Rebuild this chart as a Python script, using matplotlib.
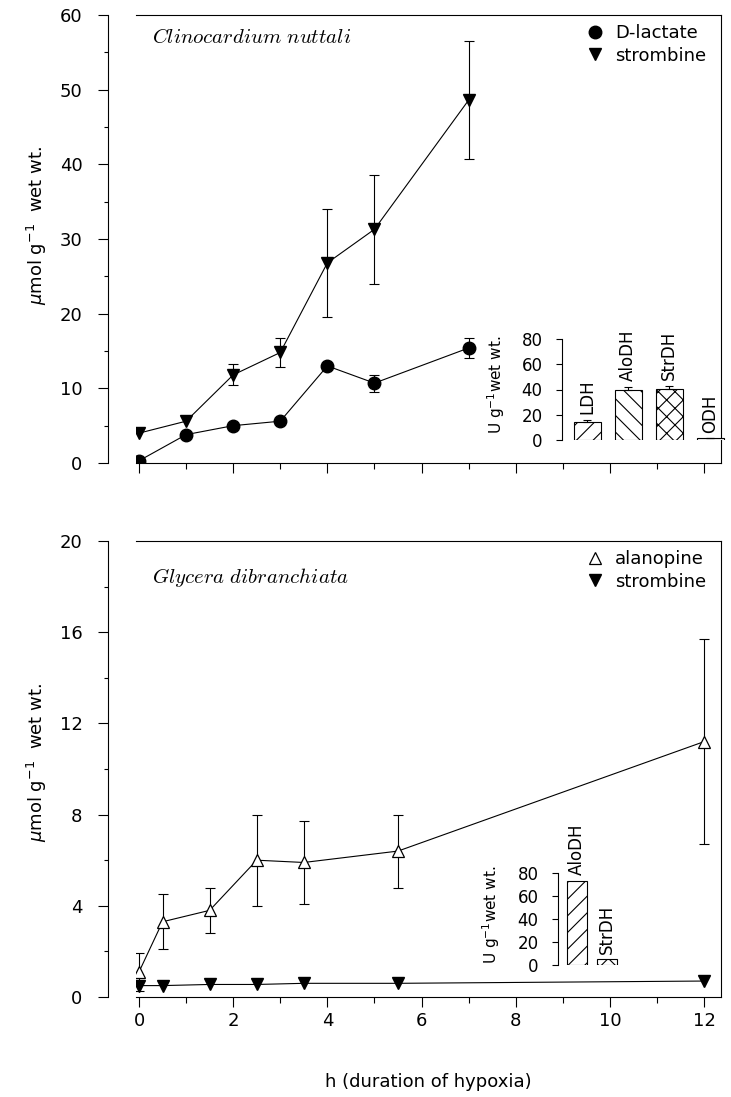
import matplotlib
matplotlib.use('Agg')
import matplotlib.pyplot as plt
from matplotlib.lines import Line2D
import numpy as np

plt.rcParams['font.family'] = ['DejaVu Sans']
plt.rcParams['mathtext.fontset'] = 'dejavusans'
plt.rcParams['hatch.linewidth'] = 0.8

# Clinocardium nuttali
clino_h = [0, 1, 2, 3, 4, 5, 7]
clino_lactate = [0.3, 3.8, 5.0, 5.6, 13.0, 10.7, 15.4]
clino_lactate_err = [0, 0, 0, 0, 0, 1.15, 1.4]
clino_strombine = [4.0, 5.6, 11.8, 14.8, 26.8, 31.3, 48.6]
clino_strombine_err = [0, 0, 1.4, 2.0, 7.2, 7.3, 7.9]

clino_enzymes = ['LDH', 'AloDH', 'StrDH', 'ODH']
clino_activity = [14.5, 39.5, 40.5, 1.5]
clino_activity_err = [1.5, 2.5, 2.5, 0]
clino_hatch = ['//', '\\\\', 'xx', '']

# Glycera dibranchiata
glyc_h = [0, 0.5, 1.5, 2.5, 3.5, 5.5, 12]
glyc_alanopine = [1.1, 3.3, 3.8, 6.0, 5.9, 6.4, 11.2]
glyc_alanopine_err = [0.85, 1.2, 1.0, 2.0, 1.8, 1.6, 4.5]
glyc_strombine = [0.5, 0.5, 0.55, 0.55, 0.6, 0.6, 0.7]

glyc_enzymes = ['AloDH', 'StrDH']
glyc_activity = [73, 5]
glyc_hatch = ['//', 'xx']

W, H = 731, 1097
fig = plt.figure(figsize=(W / 100, H / 100), dpi=100)


def px_axes(x0, y0, x1, y1):
    # pixel box (top-left origin) -> figure axes
    return fig.add_axes([x0 / W, 1 - y1 / H, (x1 - x0) / W, (y1 - y0) / H])


def errbars(ax, x, y, err, **kw):
    x, y, err = np.array(x), np.array(y), np.array(err)
    m = err > 0
    ax.errorbar(x[m], y[m], yerr=err[m], fmt='none', ecolor='k',
                elinewidth=0.8, capsize=3.5, capthick=0.8, zorder=2, **kw)


def style_main(ax, ymax, ystep, labels):
    ax.set_xlim(-0.064, 12.36)
    ax.set_ylim(0, ymax)
    for s in ax.spines.values():
        s.set_linewidth(0.8)
    ax.spines['left'].set_position(('outward', 20))
    ax.set_xticks(range(0, 13, 2))
    ax.set_xticks(range(1, 13, 2), minor=True)
    ax.set_yticks(np.arange(0, ymax + 0.01, ystep))
    ax.set_yticks(np.arange(ystep / 2, ymax, ystep), minor=True)
    ax.tick_params(axis='y', which='major', direction='out', length=7.5,
                   width=0.8, pad=11, labelsize=13)
    ax.tick_params(axis='y', which='minor', direction='out', length=3, width=0.8)
    ax.tick_params(axis='x', which='major', direction='out', length=7,
                   width=0.8, pad=4, labelsize=13, labelbottom=labels)
    ax.tick_params(axis='x', which='minor', direction='out', length=4, width=0.8)


def style_inset(ax, xlim, label_x):
    ax.set_facecolor('none')
    ax.set_xlim(*xlim)
    ax.set_ylim(0, 80)
    for k in ['top', 'right', 'bottom']:
        ax.spines[k].set_visible(False)
    ax.spines['left'].set_linewidth(0.8)
    ax.set_xticks([])
    ax.set_yticks([0, 20, 40, 60, 80])
    ax.tick_params(axis='y', direction='out', length=4, width=0.8, pad=10, labelsize=12)
    ax.set_ylabel(r'U g$^{-1}$wet wt.', fontsize=11)
    ax.yaxis.set_label_coords(label_x, 0.55)


def inset_bars(ax, names, vals, errs, hatches):
    x = np.arange(len(names))
    bars = ax.bar(x, vals, width=0.66, color='white', edgecolor='k', linewidth=0.8)
    for b, h in zip(bars, hatches):
        b.set_hatch(h)
    if errs is not None:
        errs = np.array(errs)
        ax.errorbar(x, vals, yerr=[np.zeros_like(errs), errs], fmt='none',
                    ecolor='k', elinewidth=0.8, capsize=3, capthick=0.8)
    else:
        errs = np.zeros(len(names))
    for xi, v, e, n in zip(x, vals, errs, names):
        ax.annotate(n, (xi, v + e), xytext=(0, 4), textcoords='offset points',
                    rotation=90, ha='center', va='bottom', fontsize=12,
                    annotation_clip=False)


# ---------- top panel ----------
ax1 = px_axes(136, 15, 721, 463)
errbars(ax1, clino_h, clino_strombine, clino_strombine_err)
errbars(ax1, clino_h, clino_lactate, clino_lactate_err)
ax1.plot(clino_h, clino_strombine, color='k', lw=0.8, marker='v', ms=9, zorder=3)
ax1.plot(clino_h, clino_lactate, color='k', lw=0.8, marker='o', ms=9, zorder=3)
style_main(ax1, 60, 10, False)
ax1.set_ylabel(r'$\mu$mol g$^{-1}$  wet wt.', fontsize=13)
ax1.yaxis.set_label_coords(-0.148, 0.53)
ax1.text(0.027, 0.951, r'$\mathit{Clinocardium\ nuttali}$', transform=ax1.transAxes,
         fontsize=15, va='center', ha='left', math_fontfamily='cm')
h1 = [Line2D([], [], color='k', marker='o', ls='none', ms=9),
      Line2D([], [], color='k', marker='v', ls='none', ms=8)]
ax1.legend(h1, ['D-lactate', 'strombine'], loc='upper right', frameon=False,
           fontsize=13, handlelength=0.8, handletextpad=0.7, labelspacing=0.25,
           borderaxespad=0.1, bbox_to_anchor=(0.99, 1.0))

ins1 = px_axes(562, 339, 728, 440)
inset_bars(ins1, clino_enzymes, clino_activity, clino_activity_err, clino_hatch)
style_inset(ins1, (-0.62, 3.44), -0.33)

# ---------- bottom panel ----------
ax2 = px_axes(136, 541, 721, 997)
errbars(ax2, glyc_h, glyc_alanopine, glyc_alanopine_err)
ax2.plot(glyc_h, glyc_strombine, color='k', lw=0.8, marker='v', ms=8, zorder=3)
ax2.plot(glyc_h, glyc_alanopine, color='k', lw=0.8, marker='^', ms=9,
         mfc='white', mew=0.9, zorder=4)
style_main(ax2, 20, 4, True)
ax2.set_ylabel(r'$\mu$mol g$^{-1}$  wet wt.', fontsize=13)
ax2.yaxis.set_label_coords(-0.148, 0.515)
ax2.set_xlabel('h (duration of hypoxia)', fontsize=13, labelpad=31)
ax2.text(0.027, 0.919, r'$\mathit{Glycera\ dibranchiata}$', transform=ax2.transAxes,
         fontsize=15, va='center', ha='left', math_fontfamily='cm')
h2 = [Line2D([], [], color='k', marker='^', ls='none', ms=8, mfc='white', mew=0.9),
      Line2D([], [], color='k', marker='v', ls='none', ms=8)]
ax2.legend(h2, ['alanopine', 'strombine'], loc='upper right', frameon=False,
           fontsize=13, handlelength=0.8, handletextpad=0.7, labelspacing=0.25,
           borderaxespad=0.1, bbox_to_anchor=(0.99, 1.0))

ins2 = px_axes(558, 873, 622, 965)
inset_bars(ins2, glyc_enzymes, glyc_activity, None, glyc_hatch)
style_inset(ins2, (-0.62, 1.5), -0.88)

fig.savefig('out.png', dpi=100)
